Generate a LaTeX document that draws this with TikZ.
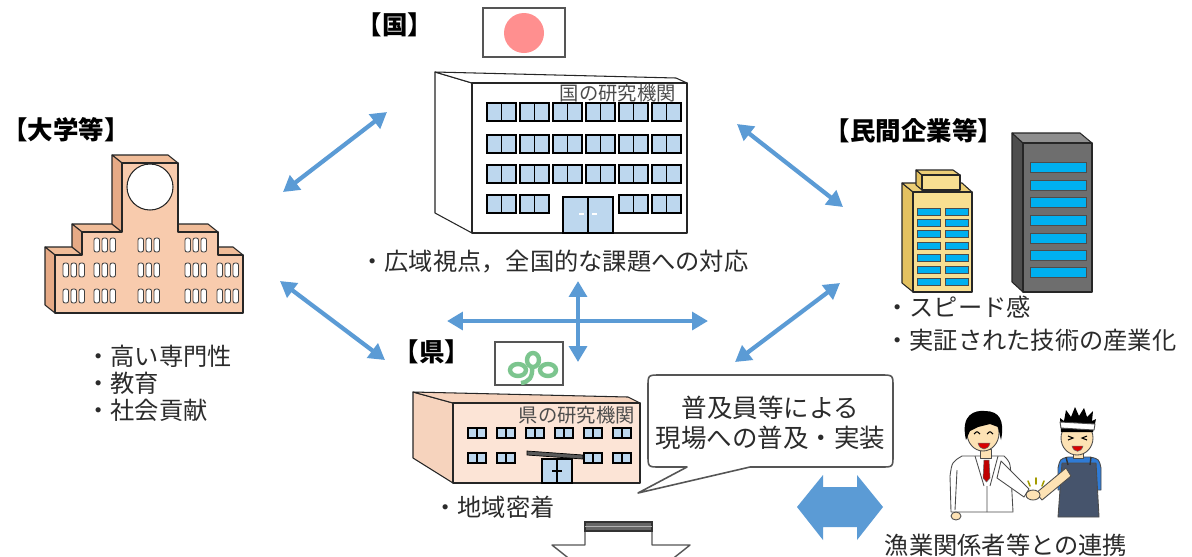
\documentclass[tikz,border=0pt]{standalone}
\usepackage{fontspec}
\setmainfont{Noto Sans CJK JP}
\usetikzlibrary{arrows.meta}

\definecolor{linkblue}{HTML}{5B9BD5}
\definecolor{inkgray}{HTML}{2B2B2B}
\definecolor{linegray}{HTML}{555555}
\definecolor{glass}{HTML}{BDD7EE}
\definecolor{peach}{HTML}{F8CBAD}
\definecolor{peachside}{HTML}{E6AA86}
\definecolor{peachtop}{HTML}{F0BC98}
\definecolor{paleskin}{HTML}{FCE4D6}
\definecolor{paleskinside}{HTML}{F6D3BD}
\definecolor{sunred}{HTML}{FF8F8F}
\definecolor{leafgreen}{HTML}{7CC58E}
\definecolor{gold}{HTML}{F8DF91}
\definecolor{goldside}{HTML}{E3C160}
\definecolor{steel}{HTML}{6E6E6E}
\definecolor{steelside}{HTML}{4E4E4E}
\definecolor{steeltop}{HTML}{8E8E8E}
\definecolor{cyanpane}{HTML}{00B0F0}
\definecolor{skin}{HTML}{FDE2B4}
\definecolor{tiered}{HTML}{C00000}
\definecolor{apron}{HTML}{46546C}
\definecolor{shirtblue}{HTML}{2F7BD6}

\tikzset{
  head/.style={font=\fontsize{14.5pt}{17pt}\selectfont\bfseries, inner sep=0pt, text=black},
  note/.style={font=\fontsize{13.8pt}{16pt}\selectfont, inner sep=0pt, anchor=west, text=inkgray},
  tag/.style={font=\fontsize{11pt}{13pt}\selectfont, inner sep=0pt, anchor=east, text=black!70},
  link/.style={draw=linkblue, line width=2.4pt,
    {Triangle[length=9pt,width=10pt]}-{Triangle[length=9pt,width=10pt]}},
  wall/.style={draw=black!85, line width=0.6pt, line join=round},
  pane/.style={fill=glass, draw=black, line width=0.9pt},
  smallpane/.style={fill=glass, draw=black, line width=0.7pt},
  pill/.style={fill=white, draw=black!75, line width=0.5pt, rounded corners=1.2pt},
  bar/.style={fill=cyanpane, draw=black!70, line width=0.5pt},
  figline/.style={draw=black!70, line width=0.5pt, line join=round},
  flag/.style={fill=white, draw=linegray, line width=0.8pt},
}

\begin{document}
\begin{tikzpicture}[x=0.02cm, y=-0.02cm]
\useasboundingbox (0,0) rectangle (1192,556);
\clip (0,0) rectangle (1192,556);
\fill[white] (0,0) rectangle (1192,556);

% ---------- national institute ----------
\node[head] (hKoku) at (395,25) {【国】};
\filldraw[flag] (483,8) rectangle (565,57);
\fill[sunred] (524,33) circle[radius=20];

\filldraw[wall, fill=white] (435,72) -- (472,83) -- (472,233) -- (435,213) -- cycle;
\filldraw[wall, fill=white] (435,72) -- (676,78) -- (687,83) -- (472,83) -- cycle;
\filldraw[wall, fill=white] (472,83) rectangle (687,233);
\node[tag] (kokuLab) at (676,93) {国の研究機関};
\foreach \wx in {487,520,553,586,619,652}
  \foreach \wy in {103,135,165} {
    \filldraw[pane] (\wx,\wy) rectangle ++(29,18);
    \draw[black, line width=0.9pt] (\wx+14.5,\wy) -- ++(0,18);
  }
\foreach \wx in {487,520,619,652} {
  \filldraw[pane] (\wx,195) rectangle ++(29,18);
  \draw[black, line width=0.9pt] (\wx+14.5,195) -- ++(0,18);
}
\filldraw[pane, line width=1.1pt] (563,197) rectangle (613,233);
\draw[black, line width=1.2pt] (588,197) -- (588,233);
\draw[white, line width=0.8pt] (579,214) -- (584,214) (592,214) -- (597,214);
\node[note] (nKoku) at (360,262) {・広域視点，全国的な課題への対応};

% ---------- university ----------
\node[head] (hUniv) at (66,130) {【大学等】};
\filldraw[wall, fill=peachtop] (55,255) -- (82,255) -- (72,247) -- (45,247) -- cycle;
\filldraw[wall, fill=peachtop] (82,232) -- (122,232) -- (112,224) -- (72,224) -- cycle;
\filldraw[wall, fill=peachtop] (122,163) -- (178,163) -- (168,155) -- (112,155) -- cycle;
\filldraw[wall, fill=peachtop] (178,232) -- (218,232) -- (208,224) -- (168,224) -- cycle;
\filldraw[wall, fill=peachtop] (218,255) -- (243,255) -- (233,247) -- (208,247) -- cycle;
\filldraw[wall, fill=peachside] (55,255) -- (55,313) -- (45,305) -- (45,247) -- cycle;
\filldraw[wall, fill=peachside] (82,232) -- (82,255) -- (72,247) -- (72,224) -- cycle;
\filldraw[wall, fill=peachside] (122,163) -- (122,232) -- (112,224) -- (112,155) -- cycle;
\filldraw[wall, fill=peach] (55,313) -- (55,255) -- (82,255) -- (82,232) -- (122,232)
  -- (122,163) -- (178,163) -- (178,232) -- (218,232) -- (218,255) -- (243,255)
  -- (243,313) -- cycle;
\filldraw[wall, fill=white] (150,187) circle[radius=23];
\foreach \gx in {94,138,185}
  \foreach \k in {0,1,2}
    \filldraw[pill] (\gx+\k*8,238) rectangle ++(5.5,14);
\foreach \gx in {63,94,138,185,217}
  \foreach \gy in {263,289}
    \foreach \k in {0,1,2}
      \filldraw[pill] (\gx+\k*8,\gy) rectangle ++(5.5,14);
\node[note] (nUniv1) at (86,356) {・高い専門性};
\node[note] (nUniv2) at (86,383) {・教育};
\node[note] (nUniv3) at (86,410) {・社会貢献};

% ---------- private companies ----------
\node[head] (hFirm) at (914,131) {【民間企業等】};
\filldraw[wall, fill=steelside] (1012,133) -- (1023,143) -- (1023,292) -- (1012,282) -- cycle;
\filldraw[wall, fill=steeltop] (1012,133) -- (1080,133) -- (1092,143) -- (1023,143) -- cycle;
\filldraw[wall, fill=steel] (1023,143) rectangle (1092,292);
\foreach \c in {167,185,202,220,238,255,272}
  \filldraw[bar] (1030,\c-5) rectangle (1086,\c+5);

\filldraw[wall, fill=goldside] (902,183) -- (913,192) -- (913,292) -- (902,283) -- cycle;
\filldraw[wall, fill=goldside!55!gold] (902,183) -- (962,183) -- (972,192) -- (913,192) -- cycle;
\filldraw[wall, fill=gold] (913,192) rectangle (972,292);
\filldraw[wall, fill=goldside] (916,170) -- (922,175) -- (922,190) -- (916,185) -- cycle;
\filldraw[wall, fill=goldside!55!gold] (916,170) -- (953,170) -- (960,175) -- (922,175) -- cycle;
\filldraw[wall, fill=gold] (922,175) rectangle (960,190);
\foreach \t in {208,219,230,242,254,266,278} {
  \filldraw[bar] (917,\t) rectangle (940,\t+7);
  \filldraw[bar] (945,\t) rectangle (968,\t+7);
}
\node[note] (nFirm1) at (885,307) {・スピード感};
\node[note] (nFirm2) at (885,340) {・実証された技術の産業化};

% ---------- prefecture ----------
\node[head] (hPref) at (432,352) {【県】};
\filldraw[flag] (495,342) rectangle (563,385);
\begin{scope}[draw=leafgreen, line width=2.5pt]
  \draw (518,370) ellipse[x radius=8, y radius=6];
  \draw (533,360) ellipse[x radius=6, y radius=7];
  \draw (548,370) ellipse[x radius=8, y radius=6];
  \draw (532,367) .. controls (533,377) and (529,382) .. (521,383);
\end{scope}

\filldraw[wall, fill=paleskinside] (413,392) -- (453,403) -- (453,483) -- (413,458) -- cycle;
\filldraw[wall, fill=paleskinside] (413,392) -- (628,397) -- (640,403) -- (453,403) -- cycle;
\filldraw[wall, fill=paleskin] (453,403) rectangle (640,483);
\node[tag] (prefLab) at (635,415) {県の研究機関};
\foreach \wx in {468,497,526,555,584,613} {
  \filldraw[smallpane] (\wx,428) rectangle ++(18,10);
  \draw[black, line width=0.7pt] (\wx+9,428) -- ++(0,10);
}
\foreach \wx in {468,497,584,613} {
  \filldraw[smallpane] (\wx,453) rectangle ++(18,10);
  \draw[black, line width=0.7pt] (\wx+9,453) -- ++(0,10);
}
\filldraw[pane] (542,459) rectangle (572,483);
\draw[black, line width=1pt] (557,459) -- (557,483) (552,471) -- (562,471);
\filldraw[fill=black!65, draw=black, line width=0.4pt] (527,451) -- (583,455) -- (583,459) -- (527,455) -- cycle;
\node[note] (nPref) at (433,507) {・地域密着};

% ---------- speech bubble ----------
\filldraw[fill=white, draw=linegray, line width=0.9pt, line join=round]
  (660,375) -- (881,375) .. controls (893,375) .. (893,387) -- (893,455)
  .. controls (893,467) .. (881,467) -- (750,467) -- (638,493) -- (687,467)
  -- (660,467) .. controls (648,467) .. (648,455) -- (648,387)
  .. controls (648,375) .. (660,375) -- cycle;
\node[font=\fontsize{14.5pt}{17pt}\selectfont, align=center, inner sep=0pt, text=inkgray]
  (bub) at (770.5,423) {普及員等による\\現場への普及・実装};

% ---------- partnership arrow and bottom arrow ----------
\fill[linkblue] (797,507) -- (823,475) -- (823,487) -- (857,487) -- (857,475) -- (883,507)
  -- (857,540) -- (857,527) -- (823,527) -- (823,540) -- cycle;
\filldraw[fill=white, draw=linegray, line width=0.8pt, line join=round]
  (585,545) -- (585,522) -- (652,522) -- (652,545) -- (690,545) -- (621,600) -- (552,545) -- cycle;
\filldraw[fill=black!60, draw=black!80, line width=0.6pt] (585,522) rectangle (652,531);
\draw[black!30, line width=0.6pt] (585,526.5) -- (652,526.5);

% ---------- people shaking hands ----------
% scientist
\filldraw[figline, fill=white] (962,456) -- (1004,456) .. controls (1010,462) .. (1011,475)
  -- (1013,512) -- (951,512) -- (950,476) .. controls (952,462) .. (962,456) -- cycle;
\filldraw[figline, fill=white] (1001,461) -- (1029,489) -- (1024,497) -- (997,478) -- cycle;
\draw[figline] (957,470) -- (955,510) (975,456) -- (984,486) (998,456) -- (990,486)
  (987,486) -- (987,512);
\filldraw[figline, fill=skin] (980,449) rectangle (991,458);
\filldraw[fill=tiered, draw=black!60, line width=0.3pt] (984,460) -- (989,460) -- (990,478)
  -- (986.5,482) -- (983,478) -- cycle;
\filldraw[figline, fill=skin] (956,516) ellipse[x radius=5, y radius=4];
\filldraw[figline, fill=skin] (983,433) ellipse[x radius=16, y radius=18];
\fill[black] (966,440) .. controls (960,414) and (975,410) .. (985,411)
  .. controls (999,411) and (1005,420) .. (1001,440) -- (998,427) -- (990,424)
  -- (978,427) -- (970,431) -- cycle;
\draw[black, line width=0.6pt] (974,434) .. controls (977,431) .. (980,434)
  (987,434) .. controls (990,431) .. (993,434);
\filldraw[fill=red!85!black, draw=black!60, line width=0.3pt] (978,443)
  .. controls (980,451) and (988,451) .. (990,443) -- cycle;
% fisherman
\filldraw[figline, fill=shirtblue] (1058,468) .. controls (1060,459) .. (1068,457)
  -- (1090,457) .. controls (1099,459) .. (1101,468) -- (1101,490) -- (1058,490) -- cycle;
\filldraw[figline, fill=apron] (1062,463) -- (1096,463) -- (1099,517) -- (1058,517) -- cycle;
\draw[black!80, line width=0.8pt] (1066,457) -- (1068,465) (1091,457) -- (1090,465);
\filldraw[figline, fill=skin] (1073,451) rectangle (1083,458);
\filldraw[figline, fill=skin] (1066,468) -- (1071,476) -- (1042,500) -- (1036,493) -- cycle;
\filldraw[figline, fill=skin] (1033,495) ellipse[x radius=7, y radius=5];
\filldraw[figline, fill=skin] (1077,438) ellipse[x radius=16, y radius=17];
\fill[black] (1061,432) -- (1060,418) -- (1064,421) -- (1066,410) -- (1071,417) -- (1075,407)
  -- (1079,416) -- (1084,408) -- (1087,417) -- (1093,411) -- (1092,421) -- (1096,419)
  -- (1093,432) -- cycle;
\filldraw[figline, fill=white] (1060,422) -- (1095,424) -- (1094,430) -- (1061,428) -- cycle;
\draw[black, line width=0.6pt] (1068,436) -- (1073,438) -- (1068,440)
  (1087,436) -- (1082,438) -- (1087,440);
\filldraw[fill=red!85!black, draw=black!60, line width=0.3pt] (1072,446)
  .. controls (1074,453) and (1081,453) .. (1083,446) -- cycle;
\draw[olive!80!yellow, line width=0.9pt, line cap=round] (1028,481) -- (1030,486)
  (1036,478) -- (1036,484) (1044,481) -- (1042,486);
\node[note, anchor=center] (nFish) at (1006,545) {漁業関係者等との連携};

% ---------- links between the actors ----------
\coordinate (uvTop) at (283,192);  \coordinate (kkLeft) at (387,112);
\coordinate (kkRight) at (737,124); \coordinate (fmTop) at (843,207);
\coordinate (uvLow) at (280,281);  \coordinate (prLeft) at (385,360);
\coordinate (fmLow) at (840,283);  \coordinate (prRight) at (735,362);
\coordinate (hzW) at (447,321);    \coordinate (hzE) at (708,321);
\coordinate (vtN) at (578,281);    \coordinate (vtS) at (578,362);
\draw[link] (uvTop) -- (kkLeft);
\draw[link] (kkRight) -- (fmTop);
\draw[link] (uvLow) -- (prLeft);
\draw[link] (fmLow) -- (prRight);
\draw[link] (hzW) -- (hzE);
\draw[link] (vtN) -- (vtS);
\end{tikzpicture}
\end{document}
